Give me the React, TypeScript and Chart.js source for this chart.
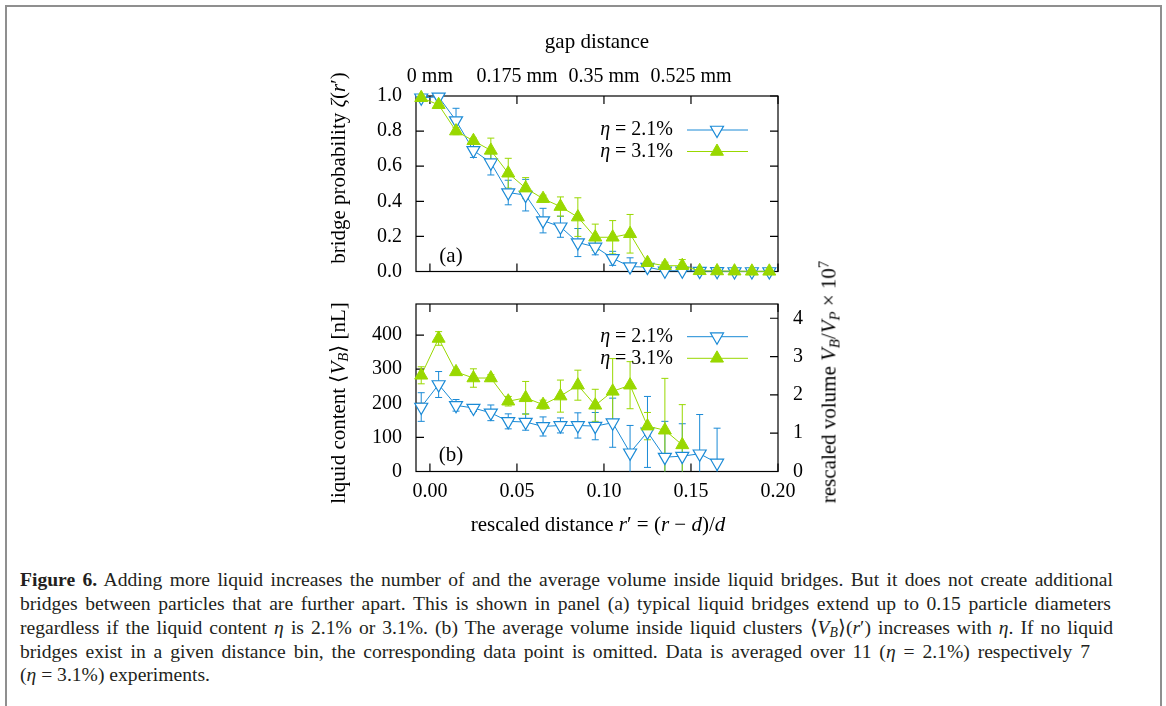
import React, { useEffect, useRef } from 'react';
import { Chart, registerables } from 'chart.js';

Chart.register(...registerables);

// ---------- data ----------
const binCenters = [
  -0.005, 0.005, 0.015, 0.025, 0.035, 0.045, 0.055, 0.065, 0.075, 0.085, 0.095,
  0.105, 0.115, 0.125, 0.135, 0.145, 0.155, 0.165, 0.175, 0.185, 0.195,
];

// panel (a): bridge probability
const probLow = [0.99, 0.995, 0.86, 0.69, 0.62, 0.45, 0.435, 0.29, 0.255, 0.165, 0.14, 0.075, 0.028, 0.025, 0.004, 0.004, 0.002, 0.001, 0.0, 0.0, 0.0];
const probLowErr = [0.01, 0.01, 0.07, 0.04, 0.07, 0.07, 0.09, 0.07, 0.06, 0.08, 0.045, 0.04, 0.05, 0.012, 0.008, 0.006, 0.004, 0.003, 0.002, 0.002, 0.002];
const probHigh = [0.99, 0.95, 0.8, 0.745, 0.69, 0.56, 0.475, 0.415, 0.37, 0.31, 0.195, 0.195, 0.215, 0.05, 0.033, 0.033, 0.004, 0.003, 0.002, 0.001, 0.001];
const probHighErr = [0.01, 0.015, 0.02, 0.015, 0.07, 0.085, 0.06, 0.02, 0.055, 0.11, 0.075, 0.095, 0.11, 0.012, 0.02, 0.035, 0.005, 0.004, 0.003, 0.002, 0.002];

// panel (b): liquid content in nL (null = omitted)
const volLow = [189, 255, 194, 186, 172, 147, 145, 132, 135, 135, 133, 143, 55, 116, 42, 45, 52, 25, null, null, null];
const volLowErr = [42, 38, 17, 10, 23, 22, 24, 28, 22, 37, 40, 72, 80, 104, 105, 95, 115, 102, 0, 0, 0];
const volHigh = [282, 390, 292, 274, 274, 206, 216, 196, 221, 253, 194, 235, 253, 133, 121, 78, null, null, null, null, null];
const volHighErr = [25, 20, 6, 27, 10, 14, 48, 13, 47, 44, 47, 96, 69, 40, 152, 118, 0, 0, 0, 0, 0];

const seriesLabels = ['η = 2.1%', 'η = 3.1%'];

// axes
const xTicks = [0, 0.05, 0.1, 0.15, 0.2];
const gapTicks = [0, 0.05, 0.1, 0.15];
const gapLabels = ['0 mm', '0.175 mm', '0.35 mm', '0.525 mm'];
const probTicks = [0, 0.2, 0.4, 0.6, 0.8, 1.0];
const volTicks = [0, 100, 200, 300, 400];
const rescaledTicks = [0, 1, 2, 3, 4];
const X_MIN = -0.008;
const X_MAX = 0.2;
const VOL_MAX = 491;
const NL_PER_UNIT = 112.3; // nL per (V_B/V_P x 1e7)

// ---------- styles ----------
const BLUE = '#1a8ad6';
const GREEN = '#99d800';
const SERIF = "'Liberation Serif', 'Times New Roman', serif";

type Pt = { x: number; y: number; err: number };
const toPoints = (vals: (number | null)[], errs: number[]): Pt[] => {
  const out: Pt[] = [];
  binCenters.forEach((x, i) => {
    const v = vals[i];
    if (v !== null && v !== undefined) out.push({ x, y: v, err: errs[i] });
  });
  return out;
};

const drawTri = (ctx: CanvasRenderingContext2D, x: number, y: number, r: number, rotDeg: number) => {
  let rad = (rotDeg * Math.PI) / 180;
  const step = (2 * Math.PI) / 3;
  ctx.beginPath();
  ctx.moveTo(x + Math.sin(rad) * r, y - Math.cos(rad) * r);
  rad += step;
  ctx.lineTo(x + Math.sin(rad) * r, y - Math.cos(rad) * r);
  rad += step;
  ctx.lineTo(x + Math.sin(rad) * r, y - Math.cos(rad) * r);
  ctx.closePath();
};

// frame, inward ticks and error bars
const framePlugin = {
  id: 'gnuFrame',
  beforeDatasetsDraw(chart: any, _args: any, opts: any) {
    const { ctx, chartArea: a } = chart;
    const w = a.right - a.left;
    const h = a.bottom - a.top;
    ctx.save();
    ctx.strokeStyle = '#000';
    ctx.lineWidth = 1.2;
    ctx.strokeRect(a.left, a.top, w, h);
    const L = 8;
    ctx.beginPath();
    const xs = chart.scales.x;
    (opts.bottom || []).forEach((v: number) => {
      const px = xs.getPixelForValue(v);
      ctx.moveTo(px, a.bottom);
      ctx.lineTo(px, a.bottom - L);
    });
    (opts.top || []).forEach((v: number) => {
      const px = xs.getPixelForValue(v);
      ctx.moveTo(px, a.top);
      ctx.lineTo(px, a.top + L);
    });
    const yl = chart.scales[opts.leftScale];
    (opts.left || []).forEach((v: number) => {
      const py = yl.getPixelForValue(v);
      ctx.moveTo(a.left, py);
      ctx.lineTo(a.left + L, py);
    });
    const yr = chart.scales[opts.rightScale];
    (opts.right || []).forEach((v: number) => {
      const py = yr.getPixelForValue(v);
      ctx.moveTo(a.right, py);
      ctx.lineTo(a.right - L, py);
    });
    ctx.stroke();

    // error bars
    ctx.save();
    ctx.beginPath();
    ctx.rect(a.left, a.top - 2, w, h + 2);
    ctx.clip();
    chart.data.datasets.forEach((ds: any, i: number) => {
      const meta = chart.getDatasetMeta(i);
      const ys = chart.scales[meta.yAxisID];
      ctx.strokeStyle = ds.borderColor;
      ctx.lineWidth = 1;
      ctx.beginPath();
      meta.data.forEach((el: any, j: number) => {
        const raw = ds.data[j];
        if (!raw || !raw.err) return;
        const t = ys.getPixelForValue(raw.y + raw.err);
        const b = ys.getPixelForValue(raw.y - raw.err);
        ctx.moveTo(el.x, t);
        ctx.lineTo(el.x, b);
        ctx.moveTo(el.x - 3.5, t);
        ctx.lineTo(el.x + 3.5, t);
        ctx.moveTo(el.x - 3.5, b);
        ctx.lineTo(el.x + 3.5, b);
      });
      ctx.stroke();
    });
    ctx.restore();
    ctx.restore();
  },
};

// legend inside the plot: text, then line sample with marker
const legendPlugin = {
  id: 'gnuLegend',
  afterDatasetsDraw(chart: any, _args: any, opts: any) {
    const { ctx, chartArea: a } = chart;
    ctx.save();
    ctx.textBaseline = 'middle';
    chart.data.datasets.forEach((ds: any, i: number) => {
      const y = a.top + opts.rows[i];
      const textRight = a.right - 105;
      const label: string = ds.label;
      const first = label.charAt(0);
      const rest = label.slice(1);
      ctx.fillStyle = '#000';
      ctx.font = `20px ${SERIF}`;
      const wRest = ctx.measureText(rest).width;
      ctx.textAlign = 'left';
      ctx.fillText(rest, textRight - wRest, y);
      ctx.font = `italic 20px ${SERIF}`;
      const wFirst = ctx.measureText(first).width;
      ctx.fillText(first, textRight - wRest - wFirst, y);
      // line sample
      ctx.strokeStyle = ds.borderColor;
      ctx.lineWidth = 1;
      ctx.beginPath();
      ctx.moveTo(a.right - 91, y);
      ctx.lineTo(a.right - 30, y);
      ctx.stroke();
      drawTri(ctx, a.right - 61, y, ds.pointRadius, ds.pointRotation || 0);
      ctx.fillStyle = ds.pointBackgroundColor;
      ctx.fill();
      ctx.lineWidth = ds.pointBorderWidth;
      ctx.strokeStyle = ds.pointBorderColor;
      ctx.stroke();
    });
    ctx.restore();
  },
};

const makeDatasets = (low: Pt[], high: Pt[]) => [
  {
    label: seriesLabels[0],
    data: low,
    borderColor: BLUE,
    backgroundColor: '#ffffff',
    borderWidth: 1,
    pointStyle: 'triangle',
    pointRotation: 180,
    pointRadius: 7.5,
    pointBorderWidth: 1.2,
    pointBorderColor: BLUE,
    pointBackgroundColor: '#ffffff',
    clip: false,
    order: 1,
    yAxisID: 'y',
  },
  {
    label: seriesLabels[1],
    data: high,
    borderColor: GREEN,
    backgroundColor: GREEN,
    borderWidth: 1,
    pointStyle: 'triangle',
    pointRotation: 0,
    pointRadius: 7.5,
    pointBorderWidth: 1,
    pointBorderColor: GREEN,
    pointBackgroundColor: GREEN,
    clip: false,
    order: 0,
    yAxisID: 'y',
  },
];

const tickFont = { family: SERIF, size: 20 };

// an axis that only reserves space (no labels, no lines)
const spacerAxis = (position: string, size: number) => ({
  type: 'linear',
  position,
  min: X_MIN,
  max: X_MAX,
  grid: { display: false, drawTicks: false },
  border: { display: false },
  ticks: { display: false },
  afterFit: (s: any) => {
    s.height = size;
  },
});

export default function App() {
  const refA = useRef<HTMLCanvasElement>(null);
  const refB = useRef<HTMLCanvasElement>(null);

  useEffect(() => {
    const chartA = new Chart(refA.current as HTMLCanvasElement, {
      type: 'line',
      data: {
        datasets: makeDatasets(toPoints(probLow, probLowErr), toPoints(probHigh, probHighErr)) as any,
      },
      options: {
        animation: false,
        responsive: false,
        devicePixelRatio: 1,
        layout: { padding: { left: 56, top: 16, right: 102, bottom: 0 } },
        plugins: {
          legend: { display: false },
          tooltip: { enabled: false },
          gnuFrame: { bottom: xTicks, top: xTicks, left: probTicks, right: probTicks, leftScale: 'y', rightScale: 'y' },
          gnuLegend: { rows: [34, 55.5] },
        } as any,
        scales: {
          x: spacerAxis('bottom', 27.5),
          x2: {
            type: 'linear',
            position: 'top',
            min: X_MIN,
            max: X_MAX,
            grid: { display: false, drawTicks: false },
            border: { display: false },
            afterBuildTicks: (s: any) => {
              s.ticks = gapTicks.map((v) => ({ value: v }));
            },
            afterFit: (s: any) => {
              s.height = 70;
            },
            ticks: {
              padding: 7,
              color: '#000',
              font: tickFont,
              maxRotation: 0,
              autoSkip: false,
              callback: (_v: any, i: number) => gapLabels[i],
            },
            title: {
              display: true,
              text: 'gap distance',
              color: '#000',
              font: { family: SERIF, size: 21 },
              padding: { top: 3.4, bottom: 0 },
            },
          },
          y: {
            type: 'linear',
            position: 'left',
            min: 0,
            max: 1,
            grid: { display: false, drawTicks: false },
            border: { display: false },
            afterBuildTicks: (s: any) => {
              s.ticks = probTicks.map((v) => ({ value: v }));
            },
            afterFit: (s: any) => {
              s.width = 60;
            },
            ticks: {
              padding: 14,
              color: '#000',
              font: tickFont,
              callback: (v: any) => Number(v).toFixed(1),
            },
          },
        },
      } as any,
      plugins: [framePlugin, legendPlugin],
    });

    const chartB = new Chart(refB.current as HTMLCanvasElement, {
      type: 'line',
      data: {
        datasets: makeDatasets(toPoints(volLow, volLowErr), toPoints(volHigh, volHighErr)) as any,
      },
      options: {
        animation: false,
        responsive: false,
        devicePixelRatio: 1,
        layout: { padding: { left: 56, top: 0, right: 52, bottom: 25.5 } },
        plugins: {
          legend: { display: false },
          tooltip: { enabled: false },
          gnuFrame: { bottom: xTicks, top: xTicks, left: volTicks, right: rescaledTicks, leftScale: 'y', rightScale: 'y2' },
          gnuLegend: { rows: [32.7, 54.3] },
        } as any,
        scales: {
          xTop: spacerAxis('top', 27),
          x: {
            type: 'linear',
            position: 'bottom',
            min: X_MIN,
            max: X_MAX,
            grid: { display: false, drawTicks: false },
            border: { display: false },
            afterBuildTicks: (s: any) => {
              s.ticks = xTicks.map((v) => ({ value: v }));
            },
            afterFit: (s: any) => {
              s.height = 40;
            },
            ticks: {
              padding: 8.5,
              color: '#000',
              font: tickFont,
              maxRotation: 0,
              autoSkip: false,
              callback: (v: any) => Number(v).toFixed(2),
            },
          },
          y: {
            type: 'linear',
            position: 'left',
            min: 0,
            max: VOL_MAX,
            grid: { display: false, drawTicks: false },
            border: { display: false },
            afterBuildTicks: (s: any) => {
              s.ticks = volTicks.map((v) => ({ value: v }));
            },
            afterFit: (s: any) => {
              s.width = 60;
            },
            ticks: { padding: 14, color: '#000', font: tickFont },
          },
          y2: {
            type: 'linear',
            position: 'right',
            min: 0,
            max: VOL_MAX / NL_PER_UNIT,
            grid: { display: false, drawTicks: false },
            border: { display: false },
            afterBuildTicks: (s: any) => {
              s.ticks = rescaledTicks.map((v) => ({ value: v }));
            },
            afterFit: (s: any) => {
              s.width = 50;
            },
            ticks: { padding: 15, color: '#000', font: tickFont },
          },
        },
      } as any,
      plugins: [framePlugin, legendPlugin],
    });

    return () => {
      chartA.destroy();
      chartB.destroy();
    };
  }, []);

  const txt: React.CSSProperties = {
    position: 'absolute',
    fontFamily: SERIF,
    fontSize: 21,
    color: '#000',
    whiteSpace: 'nowrap',
    lineHeight: 1,
  };
  const centered = (cx: number, cy: number, rot = 0): React.CSSProperties => ({
    ...txt,
    left: cx,
    top: cy,
    transform: `translate(-50%, -50%)${rot ? ` rotate(${rot}deg)` : ''}`,
  });
  const sub: React.CSSProperties = { fontSize: '0.7em', verticalAlign: '-0.25em', lineHeight: 0 };
  const sup: React.CSSProperties = { fontSize: '0.7em', verticalAlign: '0.5em', lineHeight: 0 };

  const capLine = (top: number, width: number | null): React.CSSProperties => ({
    position: 'absolute',
    left: 20,
    top,
    width: width ?? undefined,
    whiteSpace: 'nowrap',
    textAlign: width ? 'justify' : 'left',
    textAlignLast: width ? 'justify' : 'left',
    fontFamily: SERIF,
    fontSize: 19.6,
    lineHeight: '24px',
    color: '#231f20',
  } as React.CSSProperties);

  return (
    <div
      style={{
        position: 'absolute',
        left: 0,
        top: 0,
        width: 1166,
        height: 706,
        overflow: 'hidden',
        background: '#fff',
      }}
    >
      <div
        style={{
          position: 'absolute',
          left: 5,
          top: 5,
          width: 1153,
          height: 800,
          border: '2px solid #8f8f8f',
        }}
      />
      <canvas ref={refA} width={580} height={289} style={{ position: 'absolute', left: 300, top: 10 }} />
      <canvas ref={refB} width={580} height={260} style={{ position: 'absolute', left: 300, top: 277 }} />

      {/* axis titles */}
      <div style={centered(338, 168, -90)}>
        bridge probability <i>ζ</i>(<i>r</i>′)
      </div>
      <div style={centered(338, 403, -90)}>
        liquid content ⟨<i>V</i>
        <span style={sub}>
          <i>B</i>
        </span>
        ⟩ [nL]
      </div>
      <div style={centered(829, 382, -90)}>
        rescaled volume <i>V</i>
        <span style={sub}>
          <i>B</i>
        </span>
        /<i>V</i>
        <span style={sub}>
          <i>P</i>
        </span>{' '}
        × 10<span style={sup}>7</span>
      </div>
      <div style={centered(598, 524)}>
        rescaled distance <i>r</i>′ = (<i>r</i> − <i>d</i>)/<i>d</i>
      </div>
      <div style={centered(451, 255)}>(a)</div>
      <div style={centered(451, 454)}>(b)</div>

      {/* caption */}
      <div style={capLine(568, 1093)}>
        <b>Figure 6.</b> Adding more liquid increases the number of and the average volume inside liquid bridges. But it does not create additional
      </div>
      <div style={capLine(592, 1091)}>
        bridges between particles that are further apart. This is shown in panel (a) typical liquid bridges extend up to 0.15 particle diameters
      </div>
      <div style={capLine(616, 1093)}>
        regardless if the liquid content <i>η</i> is 2.1% or 3.1%. (b) The average volume inside liquid clusters ⟨<i>V</i>
        <span style={sub}>
          <i>B</i>
        </span>
        ⟩(<i>r</i>′) increases with <i>η</i>. If no liquid
      </div>
      <div style={capLine(640, 1070)}>
        bridges exist in a given distance bin, the corresponding data point is omitted. Data is averaged over 11 (<i>η</i> = 2.1%) respectively 7
      </div>
      <div style={capLine(663, null)}>
        (<i>η</i> = 3.1%) experiments.
      </div>
    </div>
  );
}
